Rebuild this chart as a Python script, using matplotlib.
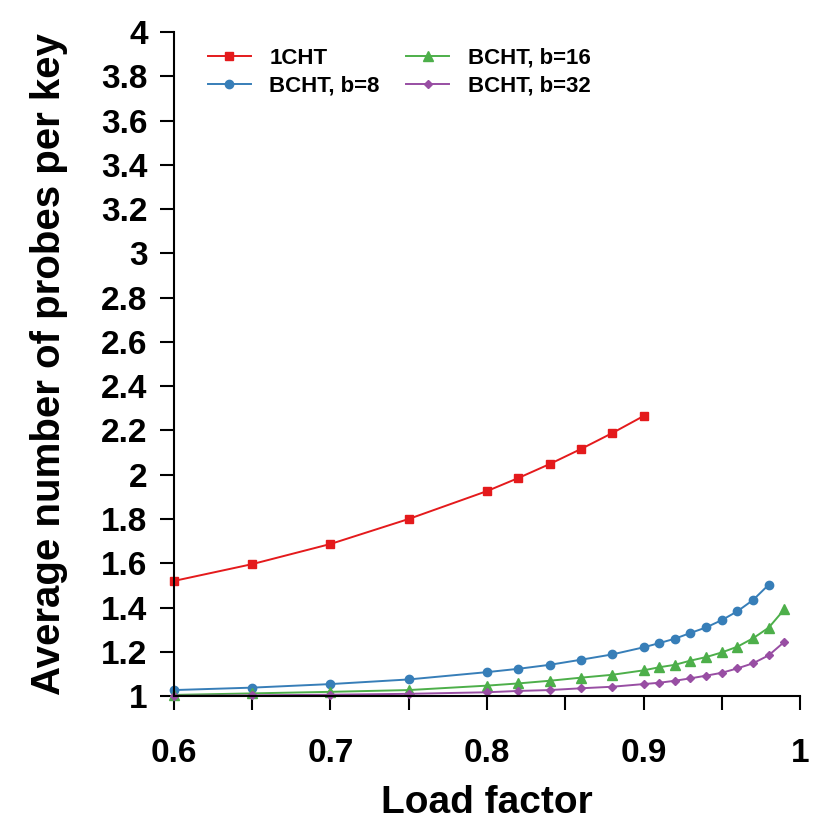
import numpy as np
import matplotlib
matplotlib.use('Agg')
import matplotlib.pyplot as plt

# load factors used for each table
x_1cht = [0.6, 0.65, 0.7, 0.75, 0.8, 0.82, 0.84, 0.86, 0.88, 0.9]
x_b8 = [0.6, 0.65, 0.7, 0.75, 0.8, 0.82, 0.84, 0.86, 0.88, 0.9,
        0.91, 0.92, 0.93, 0.94, 0.95, 0.96, 0.97, 0.98]
x_b16 = x_b8 + [0.99]
x_b32 = x_b8 + [0.99]

# average probes per key
y_1cht = [1.52, 1.596, 1.687, 1.80, 1.926, 1.985, 2.048, 2.116, 2.188, 2.265]
y_b8 = [1.027, 1.038, 1.054, 1.075, 1.108, 1.123, 1.141, 1.164, 1.188, 1.220,
        1.239, 1.259, 1.285, 1.310, 1.343, 1.383, 1.434, 1.503]
y_b16 = [1.005, 1.012, 1.019, 1.027, 1.047, 1.057, 1.069, 1.083, 1.096, 1.116,
         1.130, 1.141, 1.160, 1.176, 1.197, 1.223, 1.261, 1.309, 1.392]
y_b32 = [1.001, 1.003, 1.006, 1.010, 1.017, 1.023, 1.027, 1.035, 1.042, 1.054,
         1.060, 1.069, 1.080, 1.092, 1.105, 1.125, 1.148, 1.184, 1.245]

x_ticks = [0.6, 0.65, 0.7, 0.75, 0.8, 0.85, 0.9, 0.95, 1.0]
x_ticklabels = ['0.6', '', '0.7', '', '0.8', '', '0.9', '', '1']
y_ticks = [1, 1.2, 1.4, 1.6, 1.8, 2, 2.2, 2.4, 2.6, 2.8, 3, 3.2, 3.4, 3.6, 3.8, 4]
y_ticklabels = ['1', '1.2', '1.4', '1.6', '1.8', '2', '2.2', '2.4', '2.6', '2.8',
                '3', '3.2', '3.4', '3.6', '3.8', '4']

plt.rcParams['font.family'] = ['Liberation Sans', 'DejaVu Sans']
plt.rcParams['font.weight'] = 'bold'

fig = plt.figure(figsize=(8.3, 8.3), dpi=100)
ax = fig.add_axes([0.2096, 0.1614, 0.7543, 0.8])

lw = 1.4
ax.plot(x_1cht, y_1cht, color='#E41A1C', marker='s', ms=6, lw=lw, label='1CHT', clip_on=False)
ax.plot(x_b8, y_b8, color='#377EB8', marker='o', ms=6, lw=lw, label='BCHT, b=8', clip_on=False)
ax.plot(x_b16, y_b16, color='#4DAF4A', marker='^', ms=7, lw=lw, label='BCHT, b=16', clip_on=False)
ax.plot(x_b32, y_b32, color='#984EA3', marker='D', ms=4, lw=lw, label='BCHT, b=32', clip_on=False)

ax.set_xlim(0.6, 1.0)
ax.set_ylim(1, 4)
ax.set_xticks(x_ticks)
ax.set_xticklabels(x_ticklabels)
ax.set_yticks(y_ticks)
ax.set_yticklabels(y_ticklabels)

for side in ['top', 'right']:
    ax.spines[side].set_visible(False)
for side in ['left', 'bottom']:
    ax.spines[side].set_linewidth(1.5)

ax.tick_params(axis='both', direction='out', length=10, width=1.5, labelsize=24)
ax.tick_params(axis='y', pad=9)
ax.tick_params(axis='x', pad=20)

ax.set_xlabel('Load factor', fontsize=28, fontweight='bold', labelpad=12)
ax.set_ylabel('Average number of probes per key', fontsize=29, fontweight='bold', labelpad=24)

ax.legend(loc='upper left', bbox_to_anchor=(0.03, 1.0), ncol=2, frameon=False,
          fontsize=16, handlelength=1.9, handletextpad=0.85, columnspacing=1.2,
          labelspacing=0.32, borderaxespad=0.3)

fig.savefig('out.png', dpi=100)
